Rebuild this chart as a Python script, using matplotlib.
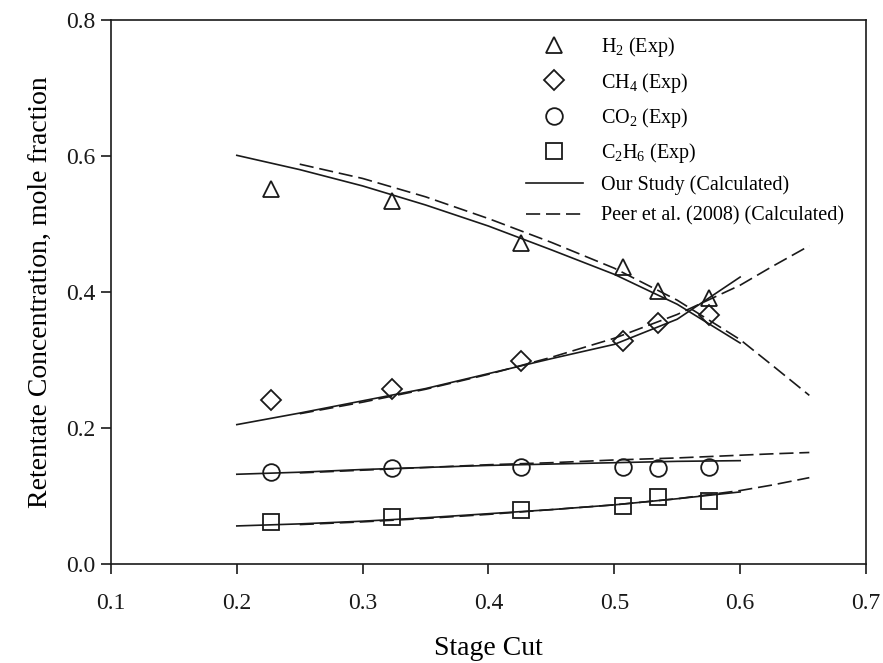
import matplotlib
matplotlib.use("Agg")
import matplotlib.pyplot as plt

plt.rcParams['font.family'] = ['Liberation Serif', 'DejaVu Serif']
plt.rcParams['mathtext.fontset'] = 'custom'
plt.rcParams['mathtext.rm'] = 'Liberation Serif'
plt.rcParams['mathtext.it'] = 'Liberation Serif:italic'

# experimental points
exp_x = [0.227, 0.323, 0.426, 0.507, 0.535, 0.575]
h2_exp = [0.552, 0.534, 0.472, 0.437, 0.401, 0.391]
ch4_exp = [0.241, 0.257, 0.298, 0.328, 0.354, 0.366]
co2_exp = [0.136, 0.141, 0.142, 0.143, 0.141, 0.142]
c2h6_exp = [0.062, 0.069, 0.079, 0.085, 0.099, 0.092]

# our study (calculated)
calc_x = [0.2, 0.25, 0.3, 0.35, 0.4, 0.45, 0.5, 0.55, 0.6]
h2_calc = [0.601, 0.580, 0.556, 0.528, 0.497, 0.462, 0.426, 0.382, 0.325]
ch4_calc = [0.205, 0.222, 0.240, 0.258, 0.280, 0.302, 0.323, 0.360, 0.422]
co2_calc = [0.132, 0.135, 0.139, 0.142, 0.145, 0.147, 0.149, 0.151, 0.152]
c2h6_calc = [0.056, 0.059, 0.063, 0.068, 0.074, 0.080, 0.087, 0.096, 0.106]

# Peer et al. (2008)
peer_x = [0.25, 0.3, 0.35, 0.4, 0.45, 0.5, 0.55, 0.6, 0.625, 0.655]
h2_peer = [0.588, 0.567, 0.540, 0.508, 0.473, 0.435, 0.388, 0.330, 0.293, 0.248]
ch4_peer = [0.221, 0.238, 0.257, 0.279, 0.304, 0.332, 0.367, 0.410, 0.437, 0.468]
co2_peer = [0.134, 0.138, 0.142, 0.146, 0.149, 0.153, 0.156, 0.160, 0.162, 0.164]
c2h6_peer = [0.058, 0.062, 0.067, 0.073, 0.080, 0.087, 0.096, 0.108, 0.116, 0.127]

col = '#1a1a1a'
fig = plt.figure(figsize=(8.83, 6.63), dpi=100)
ax = fig.add_axes([0.1257, 0.1493, 0.855, 0.8205])

mk = dict(linestyle='none', mfc='none', mec=col, mew=1.3)
ax.plot(exp_x, h2_exp, marker='^', ms=12, label='H$_2$ (Exp)', **mk)
ax.plot(exp_x, ch4_exp, marker='D', ms=10, label='CH$_4$ (Exp)', **mk)
ax.plot(exp_x, co2_exp, marker='o', ms=12, label='CO$_2$ (Exp)', **mk)
ax.plot(exp_x, c2h6_exp, marker='s', ms=11, label='C$_2$H$_6$ (Exp)', **mk)

lw = 1.2
for i, yv in enumerate([h2_calc, ch4_calc, co2_calc, c2h6_calc]):
    ax.plot(calc_x, yv, color=col, lw=lw,
            label='Our Study (Calculated)' if i == 0 else None)
for i, yv in enumerate([h2_peer, ch4_peer, co2_peer, c2h6_peer]):
    ax.plot(peer_x, yv, color=col, lw=lw, linestyle=(0, (8.5, 3.5)),
            label='Peer et al. (2008) (Calculated)' if i == 0 else None)

ax.set_xlim(0.1, 0.7)
ax.set_ylim(0.0, 0.8)
ax.set_xticks([0.1, 0.2, 0.3, 0.4, 0.5, 0.6, 0.7])
ax.set_yticks([0.0, 0.2, 0.4, 0.6, 0.8])
ax.xaxis.set_major_formatter(matplotlib.ticker.FormatStrFormatter('%.1f'))
ax.yaxis.set_major_formatter(matplotlib.ticker.FormatStrFormatter('%.1f'))
ax.tick_params(direction='out', length=7, width=1.2, labelsize=17,
               top=False, right=False, colors=col)
ax.tick_params(axis='x', pad=14)
ax.tick_params(axis='y', pad=4)
for s in ax.spines.values():
    s.set_linewidth(1.2)
    s.set_color(col)

ax.set_xlabel('Stage Cut', fontsize=20, labelpad=16)
ax.set_ylabel('Retentate Concentration, mole fraction', fontsize=20, labelpad=10)

ax.legend(loc='upper right', bbox_to_anchor=(0.995, 1.005), frameon=False,
          fontsize=14.5, handlelength=2.85, handletextpad=0.9, labelspacing=0.55,
          borderaxespad=0.5)

plt.savefig('out.png', dpi=100)
plt.close()
